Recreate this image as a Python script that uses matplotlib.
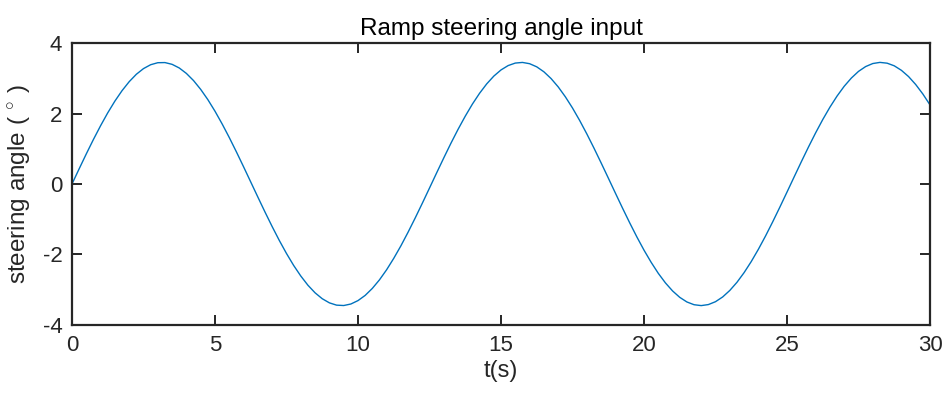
import matplotlib
matplotlib.use("Agg")
import matplotlib.pyplot as plt

# time samples (s) and steering angle (deg)
t_s = [i * 0.25 for i in range(121)]
angle_deg = [
    0.000, 0.430, 0.854, 1.264, 1.654, 2.019, 2.352, 2.648, 2.903, 3.113,
    3.274, 3.384, 3.441, 3.445, 3.395, 3.292, 3.137, 2.934, 2.684, 2.394,
    2.065, 1.704, 1.317, 0.909, 0.487, 0.057, -0.373, -0.798, -1.210, -1.604,
    -1.972, -2.310, -2.611, -2.873, -3.088, -3.255, -3.372, -3.437, -3.448, -3.405,
    -3.308, -3.161, -2.963, -2.720, -2.434, -2.109, -1.754, -1.369, -0.964, -0.544,
    -0.115, 0.316, 0.742, 1.157, 1.553, 1.924, 2.267, 2.573, 2.840, 3.062,
    3.236, 3.360, 3.431, 3.449, 3.413, 3.324, 3.183, 2.992, 2.755, 2.474,
    2.156, 1.803, 1.422, 1.019, 0.600, 0.172, -0.259, -0.686, -1.102, -1.501,
    -1.877, -2.222, -2.535, -2.807, -3.035, -3.216, -3.347, -3.425, -3.450, -3.421,
    -3.339, -3.205, -3.020, -2.789, -2.514, -2.200, -1.851, -1.474, -1.073, -0.656,
    -0.229, 0.202, 0.630, 1.048, 1.450, 1.829, 2.179, 2.495, 2.773, 3.006,
    3.195, 3.332, 3.418, 3.450, 3.428, 3.353, 3.225, 3.048, 2.822, 2.553,
    2.244,
]
x_ticks = [0, 5, 10, 15, 20, 25, 30]
y_ticks = [-4, -2, 0, 2, 4]

plt.rcParams['font.family'] = ['Liberation Sans', 'DejaVu Sans']
plt.rcParams['mathtext.fontset'] = 'custom'
plt.rcParams['mathtext.rm'] = 'Liberation Sans'

fig = plt.figure(figsize=(9.46, 3.99), dpi=100)
ax = fig.add_axes([0.0761, 0.1855, 0.9831 - 0.0761, 0.8922 - 0.1855])
ax.plot(t_s, angle_deg, color='#0072BD', linewidth=1.0)
ax.set_xlim(0, 30)
ax.set_ylim(-4, 4)
ax.set_xticks(x_ticks)
ax.set_yticks(y_ticks)
ax.set_xticklabels([str(v) for v in x_ticks])
ax.set_yticklabels([str(v) for v in y_ticks])
dark = '#262626'
for s in ax.spines.values():
    s.set_linewidth(1.6)
    s.set_color(dark)
ax.tick_params(direction='in', length=7, width=1.4, colors=dark,
               labelsize=16, top=True, right=True, pad=7)
ax.set_title('Ramp steering angle input', fontsize=17.5, color='black', pad=6)
ax.set_xlabel('t(s)', fontsize=17, color=dark, labelpad=3)
ax.set_ylabel(r'steering angle ($\,^\circ\,$)', fontsize=17.5, color=dark, labelpad=7)
fig.savefig('out.png', dpi=100)
